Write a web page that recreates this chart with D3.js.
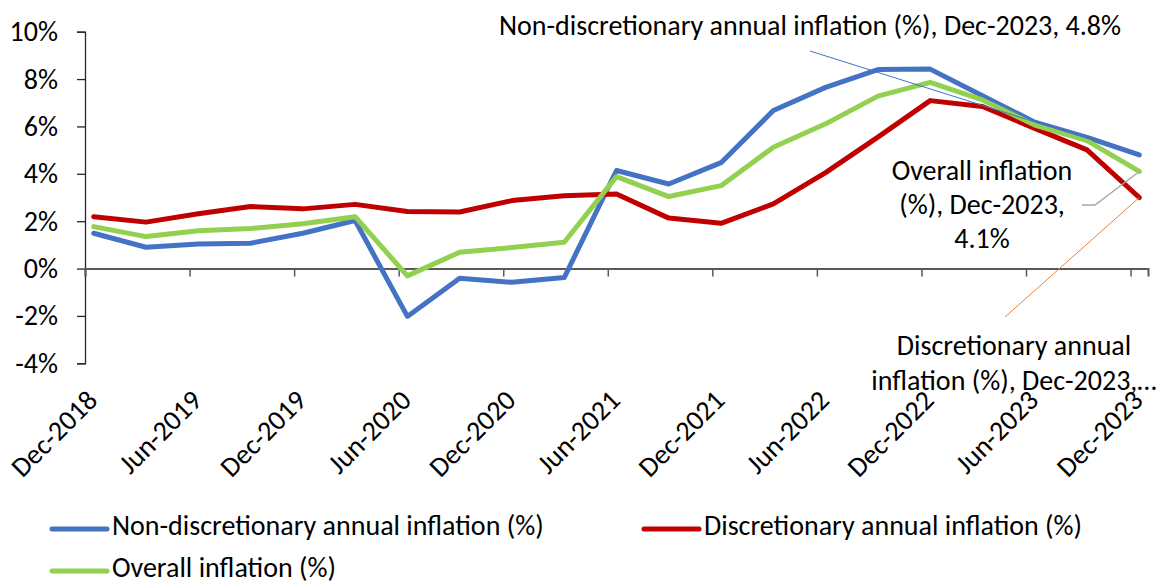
<!DOCTYPE html>
<html>
<head>
<meta charset="utf-8">
<script src="https://cdn.jsdelivr.net/npm/d3@7"></script>
<style>
  body { margin: 0; background: #fff; }
  svg { display: block; }
  text { font-family: Calibri, Carlito, Lato, sans-serif; fill: #000; }
</style>
</head>
<body>
<svg id="chart" width="1158" height="586"></svg>
<script>
// Quarterly annual inflation, Dec-2018 to Dec-2023 (%)
const quarters = [
  "Dec-2018", "Mar-2019", "Jun-2019", "Sep-2019", "Dec-2019", "Mar-2020", "Jun-2020",
  "Sep-2020", "Dec-2020", "Mar-2021", "Jun-2021", "Sep-2021", "Dec-2021", "Mar-2022",
  "Jun-2022", "Sep-2022", "Dec-2022", "Mar-2023", "Jun-2023", "Sep-2023", "Dec-2023"
];
const nonDiscretionary = [1.49, 0.90, 1.04, 1.07, 1.49, 2.03, -2.02, -0.41, -0.58, -0.38, 4.14,
  3.57, 4.47, 6.67, 7.65, 8.40, 8.42, 7.30, 6.18, 5.54, 4.8];
const discretionary = [2.19, 1.96, 2.31, 2.62, 2.52, 2.71, 2.41, 2.39, 2.87, 3.07, 3.15,
  2.13, 1.91, 2.73, 4.05, 5.55, 7.09, 6.84, 5.92, 5.01, 3.0];
const overall = [1.77, 1.35, 1.60, 1.69, 1.89, 2.19, -0.31, 0.69, 0.89, 1.11, 3.88,
  3.04, 3.50, 5.12, 6.11, 7.28, 7.86, 7.12, 6.06, 5.40, 4.1];

const seriesNames = ["Non-discretionary annual inflation (%)", "Discretionary annual inflation (%)", "Overall inflation (%)"];
const seriesColors = ["#4472C4", "#C00000", "#92D050"];
const yTicks = [-4, -2, 0, 2, 4, 6, 8, 10];
const xTickLabels = ["Dec-2018", "Jun-2019", "Dec-2019", "Jun-2020", "Dec-2020", "Jun-2021",
  "Dec-2021", "Jun-2022", "Dec-2022", "Jun-2023", "Dec-2023"];

const svg = d3.select("#chart");
const FS = 28;

// Month-based date axis: month 0 = Dec-2018, each point sits mid-month
const totalMonths = 61;
const x = d3.scaleLinear().domain([0, totalMonths]).range([85, 1148]);
const y = d3.scaleLinear().domain([-4, 10]).range([363.3, 31.7]);
const monthOfQuarter = i => 3 * i + 0.5;
const tickMonths = xTickLabels.map((_, i) => 6 * i);

// Y axis
const yAxis = svg.append("g")
  .attr("transform", `translate(${x(0)},0)`)
  .call(d3.axisLeft(y).tickValues(yTicks).tickSize(8).tickPadding(19)
    .tickFormat(d => (d < 0 ? "-" : "") + Math.abs(d) + "%"));
yAxis.select(".domain").attr("stroke", "#262626").attr("stroke-width", 1.3);
yAxis.selectAll(".tick line").attr("stroke", "#262626").attr("stroke-width", 1.3);
yAxis.selectAll(".tick text").style("font-size", FS + "px").attr("fill", "#000");

// X axis drawn along the 0% line
const xAxis = svg.append("g")
  .attr("transform", `translate(0,${y(0)})`)
  .call(d3.axisBottom(x).tickValues(tickMonths).tickSize(8).tickFormat(""));
xAxis.select(".domain").attr("stroke", "#595959").attr("stroke-width", 2);
xAxis.selectAll(".tick line").attr("stroke", "#595959").attr("stroke-width", 1.5);

// Rotated category labels below the plot
svg.append("g").selectAll("text")
  .data(xTickLabels)
  .join("text")
  .attr("transform", (d, i) => `translate(${x(tickMonths[i]) + 14},402) rotate(-45)`)
  .attr("text-anchor", "end")
  .style("font-size", FS + "px")
  .text(d => d);

// Series lines
const line = d3.line()
  .x((d, i) => x(monthOfQuarter(i)))
  .y(d => y(d));
const seriesData = [nonDiscretionary, discretionary, overall];
svg.append("g").selectAll("path")
  .data(seriesData)
  .join("path")
  .attr("d", line)
  .attr("fill", "none")
  .attr("stroke", (d, i) => seriesColors[i])
  .attr("stroke-width", 5)
  .attr("stroke-linejoin", "round")
  .attr("stroke-linecap", "round");

// End-point data labels with leader lines
const last = quarters.length - 1;
const lastX = x(monthOfQuarter(last));
const fmt = d3.format(".1f");
const ann = svg.append("g");

ann.append("line")
  .attr("x1", 810).attr("y1", 51)
  .attr("x2", lastX).attr("y2", y(nonDiscretionary[last]))
  .attr("stroke", "#4472C4").attr("stroke-width", 1);
ann.append("text")
  .attr("x", 810).attr("y", 35)
  .attr("text-anchor", "middle")
  .style("font-size", FS + "px")
  .text(`${seriesNames[0]}, ${quarters[last]}, ${fmt(nonDiscretionary[last])}%`);

ann.append("polyline")
  .attr("points", [[1082, 205], [1095, 205], [lastX, y(overall[last])]].map(p => p.join(",")).join(" "))
  .attr("fill", "none")
  .attr("stroke", "#A5A5A5").attr("stroke-width", 1.3);
const overallLines = ["Overall inflation", `(%), ${quarters[last]},`, `${fmt(overall[last])}%`];
ann.append("g").selectAll("text")
  .data(overallLines)
  .join("text")
  .attr("x", 982)
  .attr("y", (d, i) => 180 + i * 34)
  .attr("text-anchor", "middle")
  .style("font-size", FS + "px")
  .text(d => d);

ann.append("line")
  .attr("x1", 1005).attr("y1", 317)
  .attr("x2", lastX).attr("y2", y(discretionary[last]))
  .attr("stroke", "#ED7D31").attr("stroke-width", 1);
const discLines = ["Discretionary annual", `inflation (%), ${quarters[last]},…`];
ann.append("g").selectAll("text")
  .data(discLines)
  .join("text")
  .attr("x", 1014)
  .attr("y", (d, i) => 355 + i * 35)
  .attr("text-anchor", "middle")
  .style("font-size", FS + "px")
  .text(d => d);

// Legend
const legendItems = [
  { name: seriesNames[0], color: seriesColors[0], x: 52, y: 529 },
  { name: seriesNames[1], color: seriesColors[1], x: 644, y: 529 },
  { name: seriesNames[2], color: seriesColors[2], x: 52, y: 571 }
];
const legend = svg.append("g").selectAll("g")
  .data(legendItems)
  .join("g")
  .attr("transform", d => `translate(${d.x},${d.y})`);
legend.append("line")
  .attr("x1", 0).attr("x2", 55)
  .attr("stroke", d => d.color)
  .attr("stroke-width", 5)
  .attr("stroke-linecap", "round");
legend.append("text")
  .attr("x", 60)
  .attr("y", 6)
  .style("font-size", FS + "px")
  .text(d => d.name);
</script>
</body>
</html>
